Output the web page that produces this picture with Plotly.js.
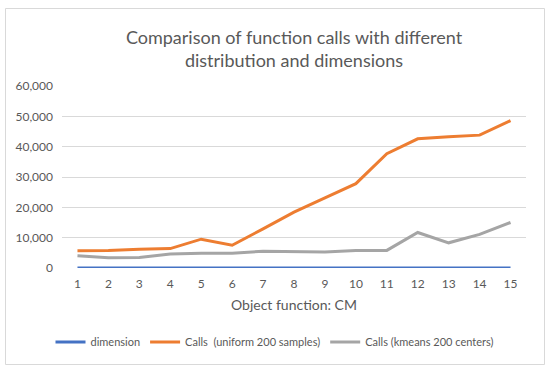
<!DOCTYPE html>
<html><head><meta charset="utf-8">
<script src="https://cdn.plot.ly/plotly-3.0.1.min.js"></script>
<style>html,body{margin:0;padding:0;background:#fff}#c{width:550px;height:372px}</style>
</head><body><div id="c"></div>
<script>
const categories = [1,2,3,4,5,6,7,8,9,10,11,12,13,14,15];
const dimension = [2,2,2,2,2,10,10,10,10,10,30,30,30,30,30];
const callsUniform = [5700,5800,6200,6400,9500,7500,12900,18400,23100,27800,37700,42600,43300,43800,48600];
const callsKmeans = [4000,3400,3500,4600,4900,4900,5500,5400,5300,5800,5800,11700,8300,11100,15000];
const seriesNames = ['dimension','Calls  (uniform 200 samples)','Calls (kmeans 200 centers)'];
const colors = ['#4472C4','#ED7D31','#A5A5A5'];

const font = 'Lato, "Open Sans", sans-serif';
const L=62, R=24, T=86, B=104, W=550, H=372;
const pw = W-L-R, ph = H-T-B;
const px = x => (x-L)/pw, py = y => (H-B-y)/ph;

const traces = [dimension, callsUniform, callsKmeans].map((v,i)=>({
  x: categories, y: v, type:'scatter', mode:'lines', name: seriesNames[i],
  line:{color:colors[i], width:3}, hoverinfo:'skip'
}));

const layout = {
  width: W, height: H,
  margin:{l:L, r:R, t:T, b:B, pad:0, autoexpand:false},
  paper_bgcolor:'#fff', plot_bgcolor:'#fff',
  font:{family:font, color:'#595959', size:12},
  title:{text:'Comparison of function calls with different<br>distribution and dimensions',
    font:{family:font, size:18, color:'#595959'}, x:0.5, xanchor:'center', xref:'paper',
    yref:'container', y:1-44/H, yanchor:'middle'},
  xaxis:{range:[0.5,15.5], tickvals:categories, ticktext:categories.map(String),
    showgrid:false, zeroline:false, showline:false, ticks:'', ticklen:0,
    tickfont:{size:12, color:'#595959'}, automargin:false, ticklabelstandoff:7,
    title:{text:'Object function: CM', font:{size:14, color:'#595959'}, standoff:10}},
  yaxis:{range:[0,60000], dtick:10000, tickformat:',d', showgrid:true, gridcolor:'#D9D9D9',
    gridwidth:1, zeroline:false, showline:false, ticks:'', tickfont:{size:12, color:'#595959'},
    ticklabelstandoff:8, automargin:false},
  showlegend:true,
  legend:{orientation:'h', xref:'container', yref:'container', x:0.5, xanchor:'center',
    y:1-342/H, yanchor:'middle',
    font:{size:11, color:'#595959'}, itemwidth:30, tracegroupgap:0},
  shapes:[{type:'rect', xref:'paper', yref:'paper', x0:px(5.5), x1:px(544.5), y0:py(364.5), y1:py(8.5),
    line:{color:'#D9D9D9', width:1}, fillcolor:'rgba(0,0,0,0)', layer:'below'}]
};
Plotly.newPlot('c', traces, layout, {displayModeBar:false, staticPlot:true});
</script></body></html>
